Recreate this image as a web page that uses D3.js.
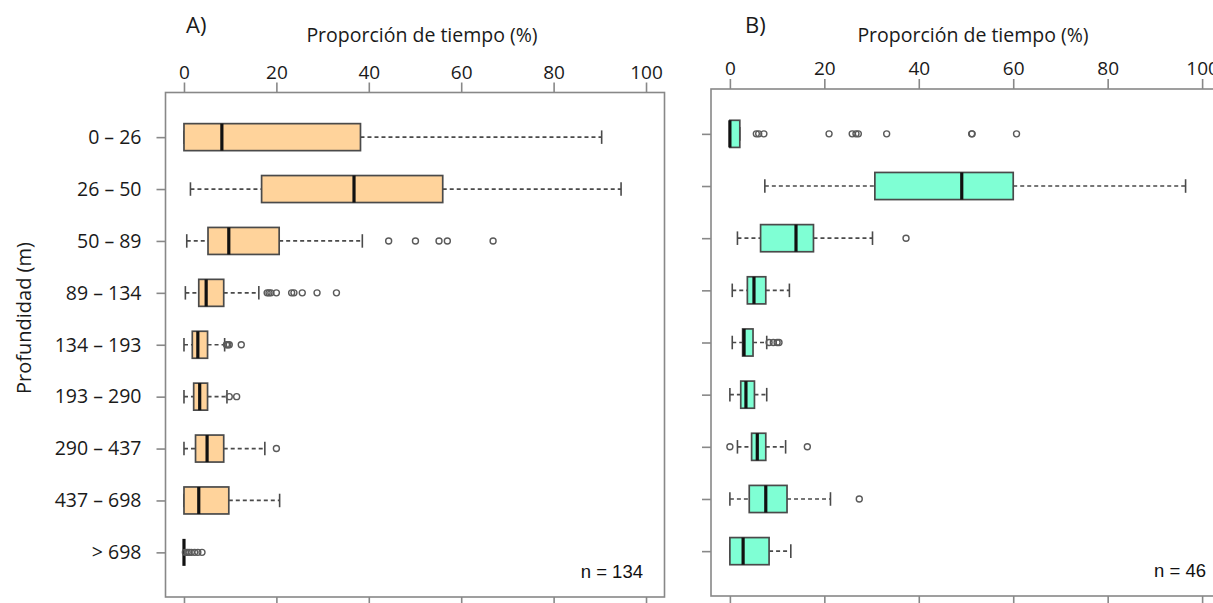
<!DOCTYPE html>
<html>
<head>
<meta charset="utf-8">
<script src="https://cdn.jsdelivr.net/npm/d3@7"></script>
<style>
  html, body { margin: 0; padding: 0; background: #fff; }
  svg { display: block; }
</style>
</head>
<body>
<svg id="chart" width="1213" height="603"></svg>
<script>
// Depth classes (top to bottom) and axis ticks
const depthLabels = ["0 – 26", "26 – 50", "50 – 89", "89 – 134", "134 – 193",
                     "193 – 290", "290 – 437", "437 – 698", "> 698"];
const tickValues = [0, 20, 40, 60, 80, 100];

// Panel A – five-number summaries (% of time) and outliers per depth class
const lowA  = [0,    1.4,  0.6,  0.3,  0,    0,    0,    0,    0];
const q1A   = [0,    16.8, 5.2,  3.2,  1.8,  2.1,  2.5,  0,    0];
const medA  = [8.2,  36.8, 9.7,  4.8,  3.0,  3.4,  5.0,  3.2,  0];
const q3A   = [38.2, 56.0, 20.6, 8.6,  5.1,  5.1,  8.6,  9.7,  0];
const highA = [90.4, 94.6, 38.6, 16.2, 8.8,  9.3,  17.5, 20.7, 0];
const outA  = [
  [],
  [],
  [44.3, 50.1, 55.2, 57.0, 66.9],
  [18.0, 18.4, 18.8, 20.0, 23.3, 23.8, 25.6, 28.8, 33.0],
  [9.2, 9.5, 9.8, 12.4],
  [9.8, 11.4],
  [20.0],
  [],
  [0.3, 0.7, 1.1, 1.6, 2.3, 3.0, 3.9]
];

// Panel B – five-number summaries (% of time) and outliers per depth class
const lowB  = [0,    7.4,  1.6,  0.5,  0.5,  0,    1.6,  0,    0];
const q1B   = [0,    30.7, 6.5,  3.7,  2.7,  2.3,  4.6,  4.1,  0];
const medB  = [0,    49.1, 14.0, 5.1,  3.0,  3.4,  5.8,  7.6,  2.8];
const q3B   = [2.1,  60.0, 17.7, 7.6,  4.9,  5.2,  7.6,  12.1, 8.3];
const highB = [2.1,  96.5, 30.2, 12.6, 7.8,  7.8,  11.8, 21.3, 12.9];
const outB  = [
  [5.6, 6.1, 7.2, 21.0, 25.9, 26.7, 27.2, 33.2, 51.2, 51.3, 60.7],
  [],
  [37.3],
  [],
  [8.3, 9.2, 10.0, 10.4],
  [],
  [0.0, 16.4],
  [27.4],
  []
];

const panelTitles = ["A)", "B)"];
const axisTitle = "Proporción de tiempo (%)";
const yTitle = "Profundidad (m)";
const sampleSizes = [134, 46];

const svg = d3.select("#chart");
const FONT = "'Open Sans', 'Noto Sans', sans-serif";

function buildRows(low, q1, med, q3, high, out) {
  return depthLabels.map((lab, i) => ({
    label: lab, idx: i + 1,
    low: low[i], q1: q1[i], med: med[i], q3: q3[i], high: high[i], out: out[i]
  }));
}

const panels = [
  { title: panelTitles[0], rows: buildRows(lowA, q1A, medA, q3A, highA, outA),
    fill: "#FFD39B", n: sampleSizes[0], left: 165.5, right: 664.5, top: 92.5, bottom: 597,
    yLabels: true, titleX: 186, nX: 643, nY: 578 },
  { title: panelTitles[1], rows: buildRows(lowB, q1B, medB, q3B, highB, outB),
    fill: "#7FFFD4", n: sampleSizes[1], left: 711, right: 1221, top: 89, bottom: 596,
    yLabels: false, titleX: 745, nX: 1206, nY: 577 }
];

panels.forEach(p => {
  // R-style extended ranges: 4% padding beyond the data extents
  const x = d3.scaleLinear().domain([-4, 104]).range([p.left, p.right]);
  const y = d3.scaleLinear().domain([0.14, 9.86]).range([p.top, p.bottom]);
  const step = y(2) - y(1);
  const boxH = step * 0.52;

  const g = svg.append("g");

  // frame
  g.append("rect")
    .attr("x", p.left).attr("y", p.top)
    .attr("width", p.right - p.left).attr("height", p.bottom - p.top)
    .attr("fill", "none").attr("stroke", "#888").attr("stroke-width", 1.6);

  // top axis
  const top = g.append("g").attr("transform", `translate(0,${p.top})`)
    .call(d3.axisTop(x).tickValues(tickValues).tickSize(10).tickPadding(4));
  top.select(".domain").remove();
  top.selectAll("line").attr("stroke", "#888").attr("stroke-width", 1.6);
  top.selectAll("text").attr("font-family", FONT).attr("font-size", 19)
    .attr("fill", "#1a1a1a");

  // bottom axis (ticks only)
  const bot = g.append("g").attr("transform", `translate(0,${p.bottom})`)
    .call(d3.axisBottom(x).tickValues(tickValues).tickSize(10).tickFormat(""));
  bot.select(".domain").remove();
  bot.selectAll("line").attr("stroke", "#888").attr("stroke-width", 1.6);

  // left axis
  const yAxis = d3.axisLeft(y).tickValues(d3.range(1, 10)).tickSize(9).tickPadding(15)
    .tickFormat(d => p.yLabels ? depthLabels[d - 1] : "");
  const left = g.append("g").attr("transform", `translate(${p.left},0)`).call(yAxis);
  left.select(".domain").remove();
  left.selectAll("line").attr("stroke", "#888").attr("stroke-width", 1.6);
  left.selectAll("text").attr("font-family", FONT).attr("font-size", 19.5)
    .attr("fill", "#1a1a1a");

  // panel letter and axis title
  g.append("text").attr("x", p.titleX).attr("y", 33)
    .attr("font-family", FONT).attr("font-size", 22).attr("fill", "#1a1a1a")
    .text(p.title);
  g.append("text").attr("x", x(50) + 7).attr("y", 42).attr("text-anchor", "middle")
    .attr("font-family", FONT).attr("font-size", 19.5).attr("fill", "#1a1a1a")
    .text(axisTitle);

  // boxplots
  const rows = g.selectAll(".row").data(p.rows).join("g").attr("class", "row")
    .attr("transform", d => `translate(0,${y(d.idx)})`);

  const dashStyle = s => s.attr("stroke", "#4a4a4a").attr("stroke-width", 1.7)
    .attr("stroke-dasharray", "4,3");

  // whiskers
  rows.append("line").call(dashStyle)
    .attr("x1", d => x(d.low)).attr("x2", d => x(d.q1)).attr("y1", 0).attr("y2", 0)
    .attr("display", d => d.low < d.q1 ? null : "none");
  rows.append("line").call(dashStyle)
    .attr("x1", d => x(d.q3)).attr("x2", d => x(d.high)).attr("y1", 0).attr("y2", 0)
    .attr("display", d => d.high > d.q3 ? null : "none");

  // staples
  ["low", "high"].forEach(k => {
    rows.append("line")
      .attr("x1", d => x(d[k])).attr("x2", d => x(d[k]))
      .attr("y1", -boxH / 4).attr("y2", boxH / 4)
      .attr("stroke", "#4a4a4a").attr("stroke-width", 1.6);
  });

  // boxes
  rows.append("rect")
    .attr("x", d => x(d.q1)).attr("y", -boxH / 2)
    .attr("width", d => x(d.q3) - x(d.q1)).attr("height", boxH)
    .attr("fill", p.fill).attr("stroke", "#4a4a4a").attr("stroke-width", 1.7);

  // medians
  rows.append("line")
    .attr("x1", d => x(d.med)).attr("x2", d => x(d.med))
    .attr("y1", -boxH / 2).attr("y2", boxH / 2)
    .attr("stroke", "#111").attr("stroke-width", 3.2);

  // outliers
  rows.selectAll("circle").data(d => d.out).join("circle")
    .attr("cx", v => x(v)).attr("cy", 0).attr("r", 3)
    .attr("fill", "none").attr("stroke", "#5a5a5a").attr("stroke-width", 1.4);

  // sample size
  g.append("text").attr("x", p.nX).attr("y", p.nY).attr("text-anchor", "end")
    .attr("font-family", "'Liberation Sans', Arial, sans-serif").attr("font-size", 18.5)
    .attr("fill", "#111").text(`n = ${p.n}`);
});

// shared vertical axis title
svg.append("text")
  .attr("transform", `translate(31,318) rotate(-90)`)
  .attr("text-anchor", "middle")
  .attr("font-family", FONT).attr("font-size", 20).attr("fill", "#1a1a1a")
  .text(yTitle);
</script>
</body>
</html>
